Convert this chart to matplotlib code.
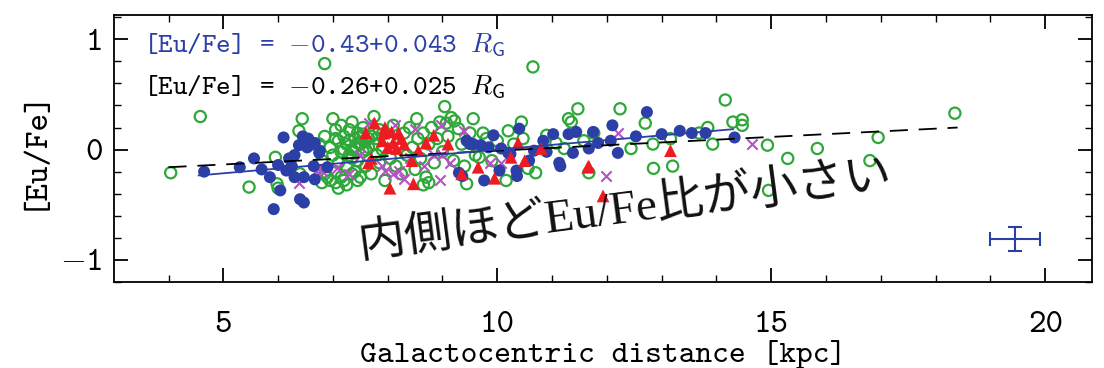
import matplotlib
matplotlib.use("Agg")
import matplotlib.pyplot as plt

plt.rcParams["font.family"] = "cmtt10"
plt.rcParams["mathtext.fontset"] = "cm"

# green open circles
green_x = [4.04, 4.58, 5.47, 5.95, 5.98, 6.00, 6.38, 6.44, 6.40, 6.85, 10.65,
           6.75, 6.80, 6.85, 6.90, 6.95, 7.00, 7.00, 7.05, 7.05, 7.10, 7.10, 7.15, 7.15,
           7.20, 7.20, 7.25, 7.25, 7.30, 7.30, 7.35, 7.35, 7.40, 7.40, 7.45, 7.45, 7.50,
           7.50, 7.55, 7.55, 7.60, 7.60, 7.65, 7.70, 7.70, 7.75, 7.75, 7.80, 7.85, 7.85,
           7.90, 7.95, 8.00, 8.05, 8.10, 8.15, 8.20, 8.25, 8.30, 8.35, 8.40, 8.45, 8.50,
           8.53, 8.55, 8.60, 8.65, 8.70, 8.75, 8.80, 8.85, 8.90, 8.95, 9.00, 9.04, 9.07,
           9.10, 9.16, 9.20, 9.22, 9.29, 9.35, 9.40, 9.44, 9.50, 9.56, 9.60, 9.67, 9.74,
           9.80, 9.90, 10.00, 10.16, 10.20, 10.30, 10.44, 10.47, 10.56, 10.70, 10.90,
           11.07, 11.22, 11.30, 11.35, 11.47, 11.58, 11.67, 11.76, 12.24, 12.44, 12.70,
           12.84, 12.85, 13.16, 13.20, 13.68, 13.84, 13.93, 14.16, 14.30, 14.47, 14.47,
           14.93, 14.95, 15.30, 15.84, 16.80, 16.95, 18.35,
           6.85, 6.95, 7.05, 7.15, 7.25, 7.35, 7.45, 6.80, 7.10, 8.65, 8.75,
           7.30, 7.40, 7.50, 7.60, 7.65, 7.35, 7.45, 7.55, 7.80, 7.90, 7.20, 7.05]
green_y = [-0.21, 0.30, -0.34, -0.07, -0.31, -0.35, 0.17, 0.28, -0.22, 0.78, 0.75,
           0.05, -0.10, 0.12, -0.25, 0.02, 0.28, -0.05, 0.18, -0.20, 0.08, -0.12, 0.22, -0.02,
           0.12, -0.28, 0.05, -0.15, 0.18, -0.05, 0.25, 0.00, 0.10, -0.20, 0.15, -0.10, 0.05,
           -0.25, 0.20, -0.02, 0.08, -0.15, 0.02, 0.12, -0.22, 0.30, 0.05, -0.05, 0.18, -0.12,
           0.00, -0.28, 0.10, -0.08, 0.22, -0.15, 0.05, -0.22, 0.15, -0.05, 0.20, 0.02, -0.18,
           0.28, 0.10, -0.08, 0.15, -0.25, 0.05, 0.20, -0.12, 0.10, 0.25, -0.02, 0.39, 0.24,
           0.12, 0.29, -0.10, 0.26, 0.19, 0.05, -0.15, -0.31, 0.15, 0.28, -0.05, -0.07, 0.15,
           0.10, -0.10, 0.08, -0.28, 0.17, 0.05, 0.25, 0.10, -0.17, -0.21, 0.13,
           0.06, 0.01, 0.28, 0.25, 0.37, 0.08, -0.21, 0.15, 0.37, 0.01, 0.24,
           0.05, -0.17, 0.10, -0.15, 0.15, 0.20, 0.05, 0.45, 0.25, 0.27, 0.22,
           0.04, -0.37, -0.08, 0.01, -0.10, 0.11, 0.33,
           -0.22, -0.28, -0.30, -0.25, -0.32, -0.22, -0.28, -0.30, -0.35, -0.32, -0.30,
           0.08, 0.02, 0.12, 0.00, 0.10, -0.08, 0.06, 0.14, 0.10, 0.14, 0.00, 0.10]

# blue filled circles
blue_x = [4.65, 5.30, 5.56, 5.70, 5.85, 5.92, 6.04, 6.10, 6.00, 6.15, 6.25, 6.30, 6.38,
          6.47, 6.53, 6.58, 6.67, 6.76, 6.65, 6.47, 6.67, 6.40, 6.47, 6.30, 6.90, 6.75,
          6.55, 6.45, 6.20, 9.30, 9.44, 9.56, 9.70, 9.93, 9.84, 10.07, 10.24, 10.40, 10.58,
          10.67, 10.84, 11.02, 11.13, 11.30, 11.38, 11.44, 11.67, 11.75, 11.84, 12.07, 12.10,
          12.20, 12.53, 12.73, 13.00, 13.33, 13.55, 14.33, 9.76, 10.04, 10.35, 10.36, 9.36,
          11.15, 10.20, 9.50, 13.80, 10.90]
blue_y = [-0.20, -0.16, -0.08, -0.18, -0.25, -0.54, -0.37, 0.11, -0.14, -0.19, -0.15, -0.05,
          0.04, 0.05, 0.02, 0.04, 0.06, -0.01, -0.15, -0.25, -0.27, -0.45, -0.48, -0.25, -0.16,
          -0.03, 0.10, 0.12, -0.08, -0.21, 0.08, 0.05, 0.04, 0.13, 0.02, 0.01, -0.04, 0.19,
          -0.10, -0.01, 0.08, 0.14, -0.12, 0.14, -0.03, 0.16, 0.01, 0.16, 0.06, 0.08, 0.22,
          -0.03, 0.12, 0.34, 0.14, 0.17, 0.15, 0.11, -0.28, -0.19, -0.19, -0.24, -0.24,
          -0.15, -0.03, 0.05, 0.15, -0.02]

# red triangles
red_x = [7.60, 7.76, 7.93, 8.07, 8.20, 8.10, 8.30, 8.00, 8.16, 8.84, 8.70, 8.56, 8.44,
         7.65, 7.70, 8.04, 8.47, 7.90, 8.25, 10.38, 10.80, 10.25, 10.50, 9.65, 9.95,
         11.65, 9.35, 13.16, 11.67, 11.93, 7.95, 9.10]
red_y = [0.15, 0.24, 0.15, 0.16, 0.15, 0.06, 0.05, 0.02, 0.01, 0.13, 0.06, -0.01, -0.10,
         -0.12, -0.08, -0.35, -0.31, 0.08, 0.10, 0.06, 0.01, -0.07, -0.10, -0.16, -0.26,
         -0.16, -0.22, -0.01, -0.15, -0.42, 0.20, 0.05]

# magenta crosses
mag_x = [6.38, 6.70, 6.80, 7.07, 7.65, 8.13, 8.50, 8.98, 8.85, 8.67, 8.20, 7.95, 7.90,
         8.10, 8.95, 9.13, 9.40, 9.86, 10.07, 12.20, 11.98, 14.65, 7.30, 8.40, 9.00, 8.30, 7.50]
mag_y = [-0.30, -0.19, -0.19, -0.17, 0.24, 0.22, 0.19, 0.22, -0.05, -0.15, -0.19, -0.19,
         -0.15, -0.22, -0.28, -0.12, 0.17, -0.12, -0.12, 0.15, -0.24, 0.05, -0.22, -0.08,
         -0.05, -0.27, -0.05]

# fits: [Eu/Fe] = a + b R_G
fit_blue = (-0.43, 0.043)
fit_blue_range = [4.55, 14.3]
fit_black = (-0.26, 0.025)
fit_black_range = [4.0, 18.4]

# typical error
err_x, err_y = 19.45, -0.81
err_dx, err_dy = 0.45, 0.11

xtick_vals = [5, 10, 15, 20]
xtick_labels = ["5", "10", "15", "20"]
ytick_vals = [-1, 0, 1]
ytick_labels = ["$-$1", "0", "1"]

C_GREEN = "#2fa83a"
C_BLUE = "#2c3fa6"
C_RED = "#ee1c22"
C_MAG = "#b650c4"

fig = plt.figure(figsize=(11.04, 3.68), dpi=100)
ax = fig.add_axes([0.103, 0.234, 0.886, 0.725])

ax.scatter(green_x, green_y, s=65, facecolors="none", edgecolors=C_GREEN, linewidths=1.6, zorder=2)
ax.scatter(mag_x, mag_y, s=55, marker="x", color=C_MAG, linewidths=1.5, zorder=3)
ax.scatter(blue_x, blue_y, s=75, color=C_BLUE, edgecolors="none", zorder=4)
ax.scatter(red_x, red_y, s=85, marker="^", color=C_RED, edgecolors="none", zorder=5)

for (a, b), (x0, x1), col, ls in [(fit_black, fit_black_range, "k", "--"),
                                  (fit_blue, fit_blue_range, C_BLUE, "-")]:
    line, = ax.plot([x0, x1], [a + b * x0, a + b * x1], color=col, lw=1.3, ls=ls, zorder=6)
    if ls == "--":
        line.set_dashes((10, 6))

ax.errorbar([err_x], [err_y], xerr=[err_dx], yerr=[err_dy], color=C_BLUE, lw=1.5,
            capsize=5, capthick=1.5, fmt="none")

ax.set_xlim(3, 20.85)
ax.set_ylim(-1.2, 1.22)
ax.set_xticks(xtick_vals, xtick_labels)
ax.set_yticks(ytick_vals, ytick_labels)
ax.set_xticks(range(4, 21), minor=True)
ax.set_yticks([v / 10 for v in range(-12, 13, 2)], minor=True)
ax.tick_params(which="both", direction="in", top=True, right=True, labelsize=24)
ax.tick_params(axis="x", which="major", pad=21)
ax.tick_params(axis="y", which="major", pad=8)
ax.tick_params(which="major", length=10, width=1.3)
ax.tick_params(which="minor", length=5, width=1.0)
for s in ax.spines.values():
    s.set_linewidth(1.3)

ax.set_xlabel("Galactocentric distance [kpc]", fontsize=23, labelpad=0)
ax.set_ylabel("[Eu/Fe]", fontsize=24, labelpad=8)

ax.text(0.03, 0.885, r"[Eu/Fe] = $-$0.43+0.043 $R_{\mathsf{G}}$",
        transform=ax.transAxes, color=C_BLUE, fontsize=20, va="center")
ax.text(0.03, 0.727, r"[Eu/Fe] = $-$0.26+0.025 $R_{\mathsf{G}}$",
        transform=ax.transAxes, color="k", fontsize=20, va="center")

fig.text(0.566, 0.43, "内側ほどEu/Fe比が小さい",
         family=["Liberation Serif", "Noto Sans CJK JP"],
         fontsize=34, rotation=7.5, rotation_mode="anchor",
         ha="center", va="center", color="#111111", zorder=10)

fig.savefig("out.png", dpi=100)
